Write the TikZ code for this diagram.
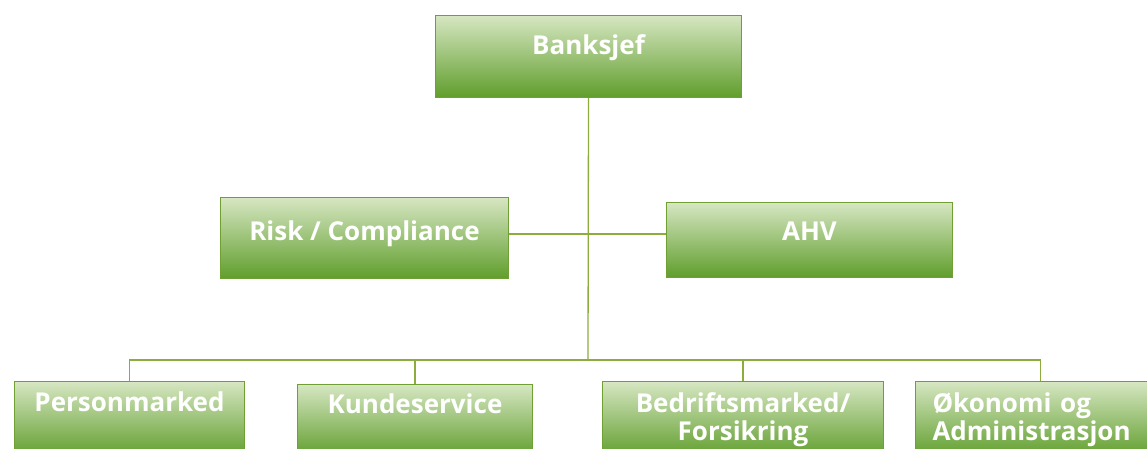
\documentclass[tikz,border=0pt]{standalone}
\usepackage{fontspec}
\setsansfont{Open Sans}
\definecolor{boxtop}{RGB}{214,230,194}
\definecolor{boxmid}{RGB}{170,205,128}
\definecolor{boxbot}{RGB}{96,158,44}
\definecolor{boxline}{RGB}{112,160,52}
\definecolor{linkline}{RGB}{140,172,62}
\begin{document}
\begin{tikzpicture}[x=1pt, y=-1pt,
    orgbox/.style={draw=boxline, line width=1pt, rectangle, anchor=north west,
        top color=boxtop, middle color=boxmid, bottom color=boxbot,
        text=white, font=\sffamily\bfseries\fontsize{26}{28}\selectfont,
        inner xsep=0pt, inner ysep=0pt},
    link/.style={draw=linkline, line width=1.3pt}]

    \useasboundingbox (0,0) rectangle (1147,448);
    \clip (0,0) rectangle (1147,448);

    % Define node at the top
    \node[orgbox, minimum width=306pt, text height=39pt, text depth=43pt] (banksjef) at (435,15) {Banksjef};

    % Define nodes in the middle row
    \node[orgbox, minimum width=288pt, text height=43pt, text depth=38pt] (risk) at (220,197) {Risk / Compliance};
    \node[orgbox, minimum width=286pt, text height=38pt, text depth=37pt] (ahv) at (666,202) {AHV};

    % Define nodes in the bottom row
    \node[orgbox, minimum width=230pt, text height=30pt, text depth=46pt] (personmarked) at (14,381) {Personmarked};
    \node[orgbox, minimum width=235pt, text height=29pt, text depth=44pt] (kundeservice) at (297,384) {Kundeservice};
    \node[orgbox, minimum width=281pt, align=center, text height=59pt, text depth=17pt] (bedrift) at (602,381) {Bedriftsmarked/\\Forsikring};
    \node[orgbox, text width=216pt, inner xsep=17pt, align=left, text height=31pt, text depth=45pt] (okonomi) at (915,381) {Økonomi og\\Administrasjon};

    % Junction points of the connectors
    \coordinate (midbar) at (588,234);
    \coordinate (hub) at (588,360);

    % Draw connectors from the top down
    \draw[link] (banksjef.south) -- (hub);
    \draw[link] (risk.east |- midbar) -- (ahv.west |- midbar);

    % Draw connectors to the bottom row
    \draw[link] (personmarked.north) |- (hub);
    \draw[link] (kundeservice.north) -- (kundeservice.north |- hub);
    \draw[link] (bedrift.north) -- (bedrift.north |- hub);
    \draw[link] (okonomi.north) |- (hub);

\end{tikzpicture}
\end{document}
